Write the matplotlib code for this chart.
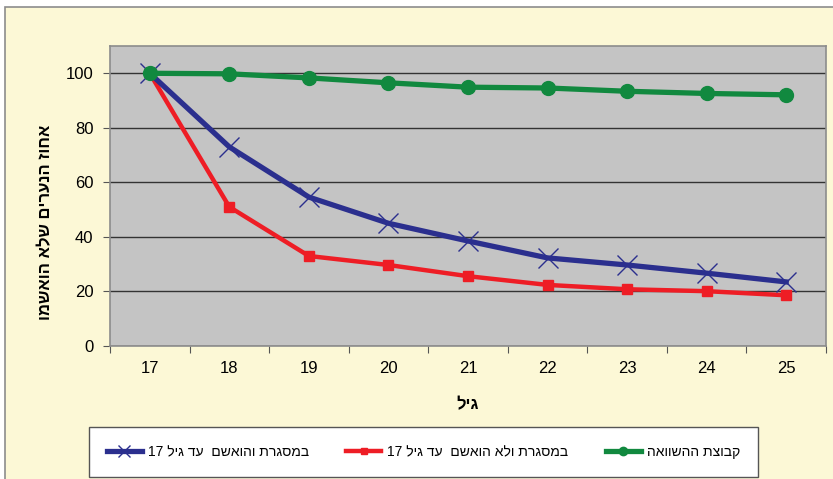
import matplotlib.pyplot as plt
from matplotlib.patches import Rectangle
from matplotlib.ticker import FixedLocator, NullFormatter
import re

plt.rcParams['font.family'] = ['Liberation Sans', 'DejaVu Sans']


def visual(s):
    # matplotlib has no bidi support: reverse Hebrew, keep digit runs readable
    r = s[::-1]
    return re.sub(r'\d+', lambda m: m.group(0)[::-1], r)


ages = [17, 18, 19, 20, 21, 22, 23, 24, 25]
framed_charged = [100, 73, 54.6, 45, 38.5, 32.3, 29.7, 26.7, 23.5]
framed_not_charged = [100, 51, 33, 29.7, 25.6, 22.4, 20.8, 20.1, 18.6]
comparison = [100, 99.8, 98.3, 96.5, 94.9, 94.6, 93.4, 92.6, 92.1]

label_blue = 'במסגרת והואשם  עד גיל 17'
label_red = 'במסגרת ולא הואשם  עד גיל 17'
label_green = 'קבוצת ההשוואה'
xlabel = 'גיל'
ylabel = 'אחוז הנערים שלא הואשמו'

fig = plt.figure(figsize=(8.33, 4.79), dpi=100)
fig.patch.set_facecolor('white')
fig.patches.append(Rectangle((5 / 833, -0.1), 1.2, 1.1 - 7 / 479, transform=fig.transFigure,
                             facecolor='#FCF8D6', edgecolor='#8c8c8c', linewidth=1.2, zorder=-5))

ax = fig.add_axes([110 / 833, 1 - 346 / 479, (826 - 110) / 833, (346 - 46) / 479])
ax.set_zorder(2)
ax.set_facecolor('#C4C4C4')

ax.plot(ages, framed_charged, color='#2B2F8E', lw=3.8, marker='x', ms=14, mew=1.0,
        label=visual(label_blue), zorder=4)
ax.plot(ages, framed_not_charged, color='#EE1D25', lw=3.2, marker='s', ms=7,
        label=visual(label_red), zorder=3)
ax.plot(ages, comparison, color='#11893F', lw=3.8, marker='o', ms=10,
        label=visual(label_green), zorder=5)

ax.set_xlim(16.5, 25.5)
ax.set_ylim(0, 110)
ax.set_yticks([0, 20, 40, 60, 80, 100])
ax.yaxis.grid(True, color='#333333', lw=1)
ax.set_axisbelow(True)

ax.xaxis.set_major_locator(FixedLocator([a - 0.5 for a in ages] + [25.5]))
ax.xaxis.set_major_formatter(NullFormatter())
ax.set_xticks(ages, minor=True)
ax.set_xticklabels([str(a) for a in ages], minor=True)
ax.tick_params(axis='x', which='major', length=5, direction='out', color='#555555')
ax.tick_params(axis='x', which='minor', length=0, pad=10.5, labelsize=12)
ax.tick_params(axis='y', length=5, direction='out', pad=7, labelsize=12, color='#555555')

for sp in ax.spines.values():
    sp.set_color('#8c8c8c')
    sp.set_linewidth(1.2)

ax.set_xlabel(visual(xlabel), fontsize=12, fontweight='bold', labelpad=15.5)
ax.set_ylabel(visual(ylabel), fontsize=12, fontweight='bold')
ax.yaxis.set_label_coords(-0.080, 0.413)

leg = fig.legend(loc='center', bbox_to_anchor=((87 + 760) / 2 / 833, 1 - 452 / 479),
                 ncol=3, frameon=True, fontsize=10, handlelength=2.5, handletextpad=0.45,
                 columnspacing=2.7, borderpad=1.3, borderaxespad=0, markerscale=0.6,
                 fancybox=False, edgecolor='#555555', framealpha=1)
leg.get_frame().set_linewidth(1.0)

fig.savefig('out.png', dpi=100, facecolor=fig.get_facecolor())
